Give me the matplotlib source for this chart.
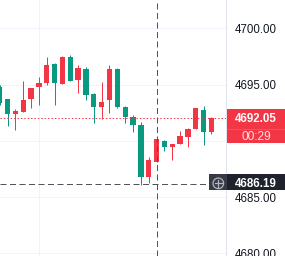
import matplotlib
matplotlib.use("Agg")
import matplotlib.pyplot as plt
from matplotlib.patches import Rectangle, Ellipse
import numpy as np

plt.rcParams['font.family'] = ['Liberation Sans', 'DejaVu Sans']

opens = [4694.81, 4693.72, 4692.38, 4692.56, 4693.72, 4694.81, 4695.14, 4696.83, 4695.05, 4697.48,
         4695.43, 4696.38, 4694.19, 4693.03, 4693.65, 4696.38, 4693.00, 4692.11, 4691.43, 4686.81,
         4688.14, 4689.98, 4689.48, 4689.72, 4690.34, 4691.08, 4692.74, 4690.78]
highs = [4695.00, 4693.75, 4692.83, 4695.32, 4694.70, 4695.70, 4697.48, 4696.90, 4697.56, 4697.65,
         4696.74, 4696.53, 4694.28, 4695.23, 4696.74, 4696.50, 4693.09, 4692.27, 4691.67, 4688.59,
         4690.36, 4690.07, 4689.72, 4690.84, 4691.10, 4692.96, 4693.12, 4692.14]
lows = [4693.20, 4691.32, 4690.96, 4692.56, 4692.92, 4693.18, 4694.99, 4693.18, 4695.05, 4695.34,
        4694.28, 4693.63, 4691.61, 4691.96, 4692.50, 4692.94, 4691.56, 4690.78, 4686.10, 4686.28,
        4688.14, 4689.12, 4688.29, 4689.72, 4689.42, 4691.08, 4689.65, 4690.60]
closes = [4693.39, 4692.38, 4692.65, 4693.63, 4694.69, 4695.16, 4696.74, 4695.11, 4697.48, 4695.34,
          4696.47, 4694.10, 4693.03, 4693.45, 4696.38, 4693.03, 4692.14, 4691.40, 4686.81, 4688.32,
          4690.19, 4689.42, 4689.72, 4690.43, 4691.08, 4692.94, 4690.81, 4692.05]

price_ticks = [4680, 4685, 4690, 4695, 4700]
last_price = 4692.05
countdown = "00:29"
cross_price = 4686.19
cross_index = 20
vgrid_index = 5

UP = '#F23645'
DOWN = '#089981'

W, H = 285, 256
fig = plt.figure(figsize=(W / 100, H / 100), dpi=100)
ax = fig.add_axes([0, 0, 226 / W, 1])
ppu = 11.25  # pixels per price unit
ytop = 4700 + 28.3 / ppu
ybot = 4700 - (256 - 28.3) / ppu
ax.set_ylim(ybot, ytop)
ax.set_xlim(0.044, 28.85)

px = 1.0 / ppu
lw1 = 0.72

for t in price_ticks:
    ax.axhline(t, color='#f0f3fa', lw=lw1, zorder=0)
ax.axvline(vgrid_index, color='#f0f3fa', lw=lw1, zorder=0)

x = np.arange(len(opens))
o = np.array(opens); c = np.array(closes); hi = np.array(highs); lo = np.array(lows)
cols = [UP if cc >= oo else DOWN for oo, cc in zip(o, c)]
ax.vlines(x, lo, hi, colors=cols, lw=lw1, zorder=2)
bottoms = np.minimum(o, c)
heights = np.maximum(np.abs(c - o), px)
ax.bar(x, heights, bottom=bottoms, width=0.68, color=cols, linewidth=0, zorder=3)

ax.axhline(last_price, color=UP, lw=lw1, dashes=(1.4, 2.0), zorder=4)

ax.axvline(cross_index, color='#50535e', lw=lw1, dashes=(6, 3.5), zorder=5)
ax.axhline(cross_price, color='#50535e', lw=lw1, dashes=(6, 3.5), zorder=5)

for s in ['top', 'left', 'bottom']:
    ax.spines[s].set_visible(False)
ax.spines['right'].set_color('#e0e3eb')
ax.spines['right'].set_linewidth(lw1)

# last price label box extent (price units)
top = last_price + 8.7 * px
bot = last_price - 25.3 * px

ax.set_xticks([])
ax.yaxis.tick_right()
ax.set_yticks(price_ticks)
# labels hidden behind the last-price box are not shown
ax.set_yticklabels(['' if (bot - 3 * px) <= t <= top else f"{t:.2f}" for t in price_ticks],
                   fontsize=8.3, color='#131722')
ax.tick_params(axis='y', length=0, pad=6.3)

# overlay axes for price-axis labels: x in pixels, y in price
ov = fig.add_axes([0, 0, 1, 1])
ov.set_xlim(0, W)
ov.set_ylim(ybot, ytop)
ov.axis('off')
ov.patch.set_alpha(0)

ov.add_patch(Rectangle((226.7, bot), W - 226.7, top - bot, facecolor=UP, edgecolor='none', zorder=10))
ov.plot([226.7, W], [last_price - 11.3 * px] * 2, color='#f45b67', lw=lw1 * 0.8, zorder=11)
ov.text(256, last_price, f"{last_price:.2f}", ha='center', va='center_baseline',
        fontsize=8.3, color='white', zorder=12, fontweight='bold')
ov.text(256, last_price - 17.3 * px, countdown, ha='center', va='center_baseline',
        fontsize=8.6, color='#fde0e3', zorder=12)

# crosshair price label
ctop = cross_price + 9.4 * px
cbot = cross_price - 6.3 * px
ov.add_patch(Rectangle((209, cbot), 226.5 - 209, ctop - cbot, facecolor='#363a45', edgecolor='none', zorder=10))
ov.add_patch(Rectangle((226.5, cbot), W - 226.5, ctop - cbot, facecolor='#1e222d', edgecolor='none', zorder=10))
ov.text(256, cross_price + 1.0 * px, f"{cross_price:.2f}", ha='center', va='center_baseline',
        fontsize=8.3, color='white', zorder=12, fontweight='bold')
cx, cy = 218.3, cross_price + 0.3 * px
ov.add_patch(Ellipse((cx, cy), 10.6, 10.6 * px, facecolor='none', edgecolor='#b2b5be', lw=0.9, zorder=13))
ov.plot([cx - 3.2, cx + 3.2], [cy, cy], color='#b2b5be', lw=0.9, zorder=13)
ov.plot([cx, cx], [cy - 3.2 * px, cy + 3.2 * px], color='#b2b5be', lw=0.9, zorder=13)

fig.savefig("out.png", dpi=100, facecolor='white')
